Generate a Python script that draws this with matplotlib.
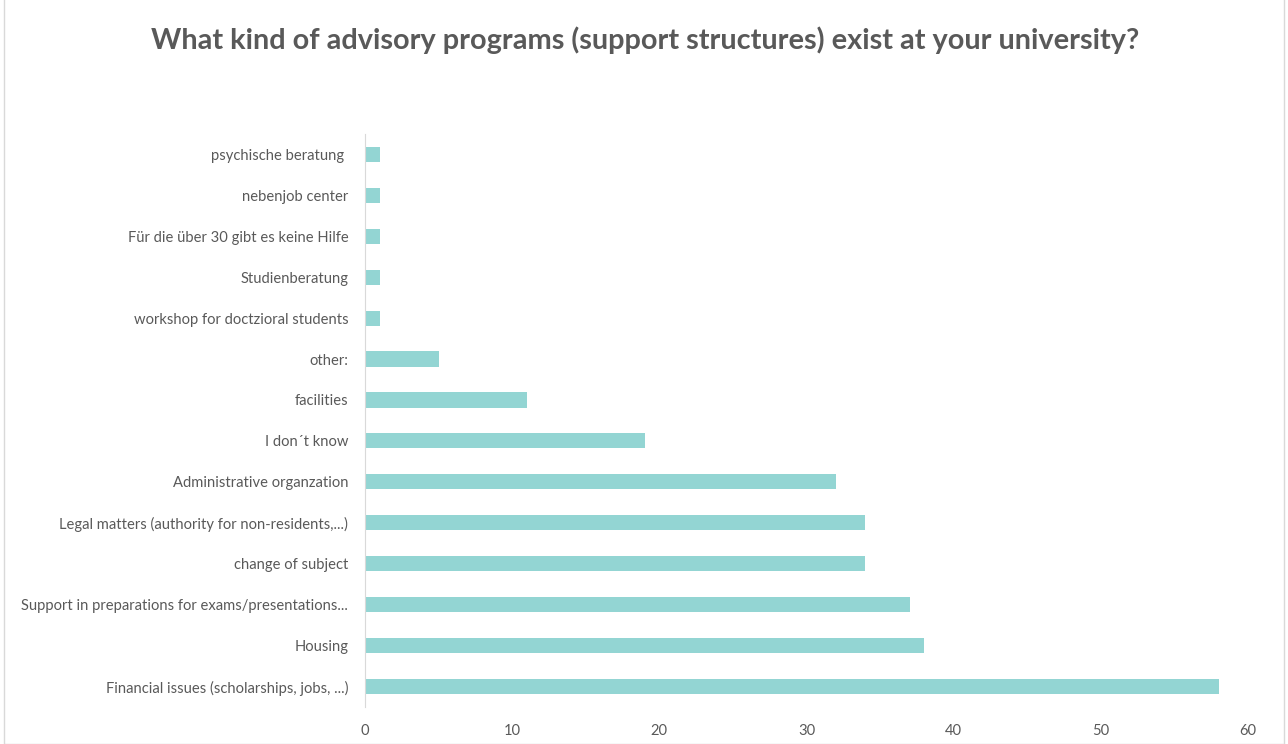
import matplotlib.pyplot as plt
from matplotlib.patches import Rectangle

categories = [
    "Financial issues (scholarships, jobs, ...)",
    "Housing",
    "Support in preparations for exams/presentations...",
    "change of subject",
    "Legal matters (authority for non-residents,...)",
    "Administrative organzation",
    "I don\u00b4t know",
    "facilities",
    "other:",
    "workshop for doctzioral students",
    "Studienberatung",
    "F\u00fcr die \u00fcber 30 gibt es keine Hilfe",
    "nebenjob center",
    "psychische beratung ",
]
counts = [58, 38, 37, 34, 34, 32, 19, 11, 5, 1, 1, 1, 1, 1]
xticks = [0, 10, 20, 30, 40, 50, 60]

plt.rcParams['font.family'] = ['Lato', 'DejaVu Sans']
grey = "#595959"

fig = plt.figure(figsize=(12.88, 7.44), dpi=100)
ax = fig.add_axes([0.2834, 0.0497, 0.6856, 0.7704])

ax.barh(range(len(categories)), counts, height=0.37, color="#93D5D3")
ax.set_xlim(0, 60)
ax.set_ylim(-0.5, len(categories) - 0.5)
ax.set_yticks(range(len(categories)))
ax.set_yticklabels(categories)
ax.set_xticks(xticks)
ax.tick_params(axis='both', length=0, colors=grey, labelsize=10.6)
ax.tick_params(axis='y', pad=12)
ax.tick_params(axis='x', pad=12)

for s in ["top", "right", "bottom"]:
    ax.spines[s].set_visible(False)
ax.spines["left"].set_color("#d9d9d9")

fig.text(0.501, 0.946, "What kind of advisory programs (support structures) exist at your university?",
         ha="center", va="center", fontsize=20.8, fontweight="bold", color=grey)

fig.patches.append(Rectangle((0.003, 0.0), 0.994, 1.2, transform=fig.transFigure,
                             fill=False, edgecolor="#d9d9d9", linewidth=1))

fig.savefig("out.png", dpi=100)
